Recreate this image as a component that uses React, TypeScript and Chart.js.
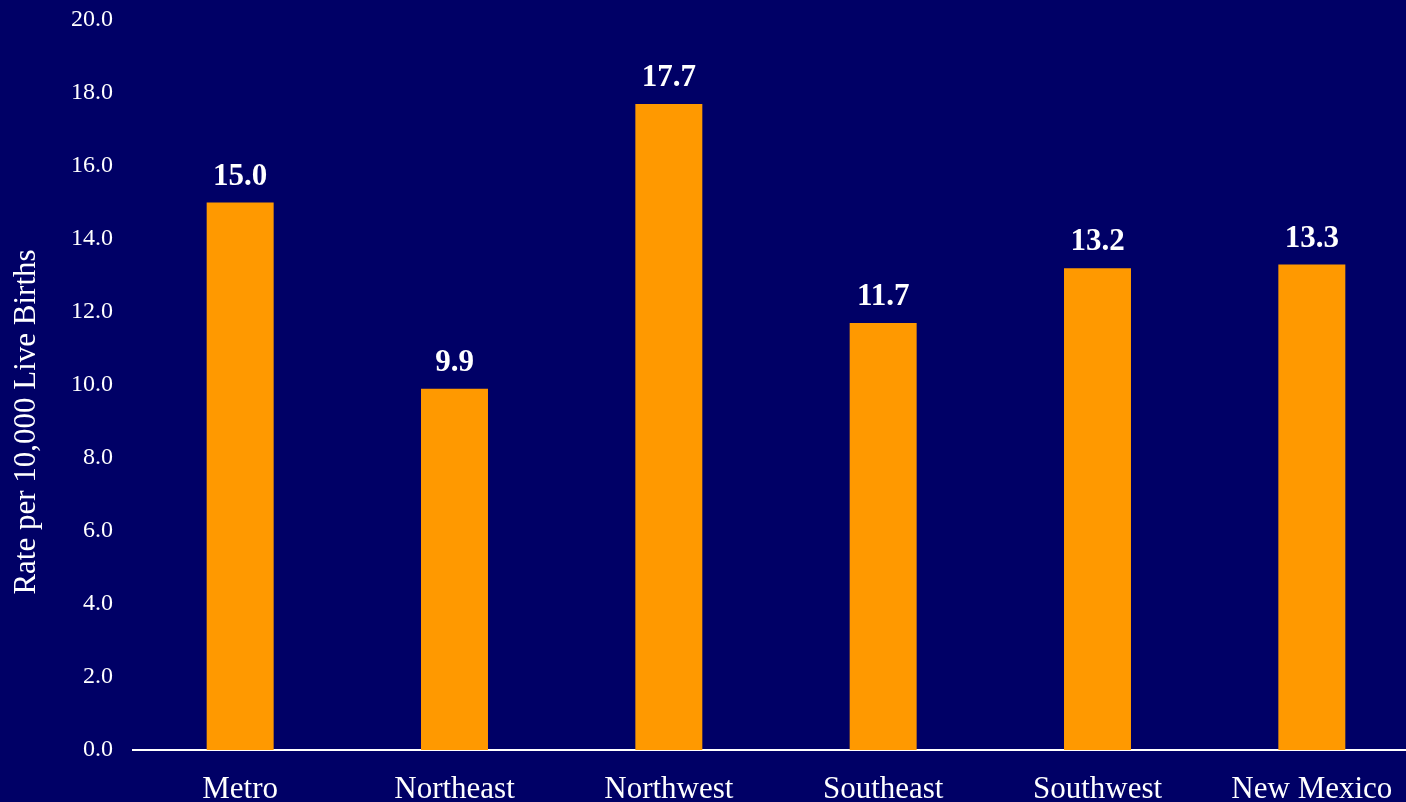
import React, { useEffect, useRef } from "react";
import { Chart, registerables } from "chart.js";

Chart.register(...registerables);

const categories = ["Metro", "Northeast", "Northwest", "Southeast", "Southwest", "New Mexico"];
const rates = [15.0, 9.9, 17.7, 11.7, 13.2, 13.3];
const yTitle = "Rate per 10,000 Live Births";

const BG = "#000066";
const BAR = "#FF9900";
const FONT = "'Liberation Serif', 'Times New Roman', Times, serif";

export default function App() {
  const ref = useRef<HTMLCanvasElement | null>(null);

  useEffect(() => {
    if (!ref.current) return;

    const labelPlugin = {
      id: "valueLabels",
      afterDatasetsDraw(chart: any) {
        const ctx = chart.ctx;
        const meta = chart.getDatasetMeta(0);
        ctx.save();
        ctx.fillStyle = "#FFFFFF";
        ctx.font = `bold 31px ${FONT}`;
        ctx.textAlign = "center";
        ctx.textBaseline = "alphabetic";
        meta.data.forEach((el: any, i: number) => {
          ctx.fillText(rates[i].toFixed(1), el.x, el.y - 18);
        });
        ctx.restore();
      },
    };

    const titlePlugin = {
      id: "yTitle",
      afterDraw(chart: any) {
        const ctx = chart.ctx;
        ctx.save();
        ctx.translate(27, 422);
        ctx.rotate(-Math.PI / 2);
        ctx.fillStyle = "#FFFFFF";
        ctx.font = `31px ${FONT}`;
        ctx.textAlign = "center";
        ctx.textBaseline = "middle";
        ctx.fillText(yTitle, 0, 0);
        ctx.restore();
      },
    };

    const chart = new Chart(ref.current, {
      type: "bar",
      data: {
        labels: categories,
        datasets: [
          {
            data: rates,
            backgroundColor: BAR,
            borderWidth: 0,
            categoryPercentage: 1,
            barPercentage: 0.3125,
          },
        ],
      },
      options: {
        responsive: false,
        animation: false,
        layout: { padding: { top: 20, left: 0, right: 0, bottom: 0 } },
        plugins: {
          legend: { display: false },
          tooltip: { enabled: false },
        },
        scales: {
          x: {
            grid: { display: false, drawTicks: false },
            border: { display: true, color: "#FFFFFF", width: 2 },
            ticks: {
              color: "#FFFFFF",
              font: { family: FONT, size: 31 },
              padding: 21,
              maxRotation: 0,
              autoSkip: false,
            },
            afterFit(scale: any) {
              scale.height = 52;
              scale.paddingLeft = 0;
              scale.paddingRight = 0;
            },
          },
          y: {
            min: 0,
            max: 20,
            grid: { display: false, drawTicks: false },
            border: { display: false },
            ticks: {
              stepSize: 2,
              color: "#FFFFFF",
              font: { family: FONT, size: 24 },
              padding: 20,
              callback: (v: any) => Number(v).toFixed(1),
            },
            afterFit(scale: any) {
              scale.width = 133;
              scale.paddingTop = 0;
              scale.paddingBottom = 0;
            },
          },
        },
      },
      plugins: [labelPlugin, titlePlugin],
    });

    return () => chart.destroy();
  }, []);

  return (
    <div
      style={{
        position: "fixed",
        left: 0,
        top: 0,
        width: 1419,
        height: 802,
        background: BG,
      }}
    >
      <canvas ref={ref} width={1419} height={802} style={{ display: "block" }} />
    </div>
  );
}
